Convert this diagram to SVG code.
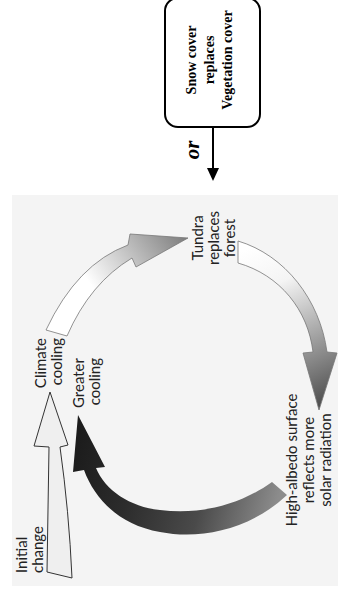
<svg xmlns="http://www.w3.org/2000/svg" width="338" height="597" viewBox="0 0 338 597">
<style>
.lbl{font-family:Lato,"Open Sans","DejaVu Sans",sans-serif;font-size:15px;fill:#222}
.box{font-family:"Liberation Serif","Times New Roman",serif;font-size:14px;font-weight:bold;fill:#000}
.lightArrow{stroke:#777;stroke-width:0.8}
</style>
<defs>
<linearGradient id="gClimate" gradientUnits="userSpaceOnUse" x1="55" y1="333" x2="188" y2="238">
<stop offset="0" stop-color="#ffffff"/><stop offset="0.35" stop-color="#ffffff"/><stop offset="1" stop-color="#7c7c7c"/>
</linearGradient>
<linearGradient id="gTundra" gradientUnits="userSpaceOnUse" x1="245" y1="250" x2="319" y2="410">
<stop offset="0" stop-color="#ffffff"/><stop offset="0.25" stop-color="#f4f4f4"/><stop offset="1" stop-color="#4a4a4a"/>
</linearGradient>
<linearGradient id="gDark" gradientUnits="userSpaceOnUse" x1="282" y1="485" x2="80" y2="430">
<stop offset="0" stop-color="#8c8c8c"/><stop offset="0.35" stop-color="#4a4a4a"/><stop offset="0.7" stop-color="#2c2c2c"/><stop offset="1" stop-color="#1c1c1c"/>
</linearGradient>
</defs>
<rect x="12" y="195" width="326" height="391" fill="#f4f4f4"/>
<g id="connectors">
<path id="arrow-initial" d="M47,572 L49,447 L34,446 L50,392 L68,445 L60,447 Q69,511 72,578 Z" fill="#efefef" stroke="#333" stroke-width="1"/>
<path id="arrow-climate-tundra" class="lightArrow" d="M46,330 Q77,264 128,245 L130,234 L188,238 L136,267 L132,258 Q90,283 67,336 Z" fill="url(#gClimate)"/>
<path id="arrow-tundra-albedo" class="lightArrow" d="M238,241 C285,255 320,300 327,352 L337,353 L319,410 L303,353 L313,352 C308,310 280,275 238,263 Z" fill="url(#gTundra)"/>
<path id="arrow-albedo-greater" d="M272,482 L287,495 C250,530 200,540 160,532 C120,525 95,500 84,470 L73,472 L78,415 L105,467 L96,468 C105,490 130,507 160,510 C200,515 240,505 272,482 Z" fill="url(#gDark)"/>
<g id="arrow-or">
<line x1="213" y1="127" x2="213" y2="170" stroke="#000" stroke-width="2"/>
<polygon points="207,168 219,168 213,181" fill="#000"/>
</g>
</g>
<g id="node-snow">
<rect x="165" y="-2" width="95" height="129" rx="13" fill="#fff" stroke="#000" stroke-width="2"/>
<text class="box" transform="translate(196,60) rotate(-90)" text-anchor="middle">Snow cover<tspan x="0" dy="18">replaces</tspan><tspan x="0" dy="18">Vegetation cover</tspan></text>
</g>
<g id="label-or">
<text transform="translate(199,150) rotate(-90)" text-anchor="middle" font-family="'Liberation Serif','Times New Roman',serif" font-size="21" font-weight="bold" font-style="italic" fill="#000">or</text>
</g>
<g id="node-initial">
<text class="lbl" transform="translate(27,573) rotate(-90)">Initial<tspan x="0" dy="16">change</tspan></text>
</g>
<g id="node-climate">
<text class="lbl" transform="translate(46,338) rotate(-90)" text-anchor="end">Climate<tspan x="0" dy="16">cooling</tspan></text>
</g>
<g id="node-greater">
<text class="lbl" transform="translate(84,358) rotate(-90)" text-anchor="end">Greater<tspan x="0" dy="16">cooling</tspan></text>
</g>
<g id="node-tundra">
<text class="lbl" transform="translate(203,238) rotate(-90)" text-anchor="middle">Tundra<tspan x="0" dy="16">replaces</tspan><tspan x="0" dy="16">forest</tspan></text>
</g>
<g id="node-albedo">
<text class="lbl" transform="translate(297,460) rotate(-90)" text-anchor="middle">High-albedo surface<tspan x="0" dy="17">reflects more</tspan><tspan x="0" dy="17">solar radiation</tspan></text>
</g>
</svg>
